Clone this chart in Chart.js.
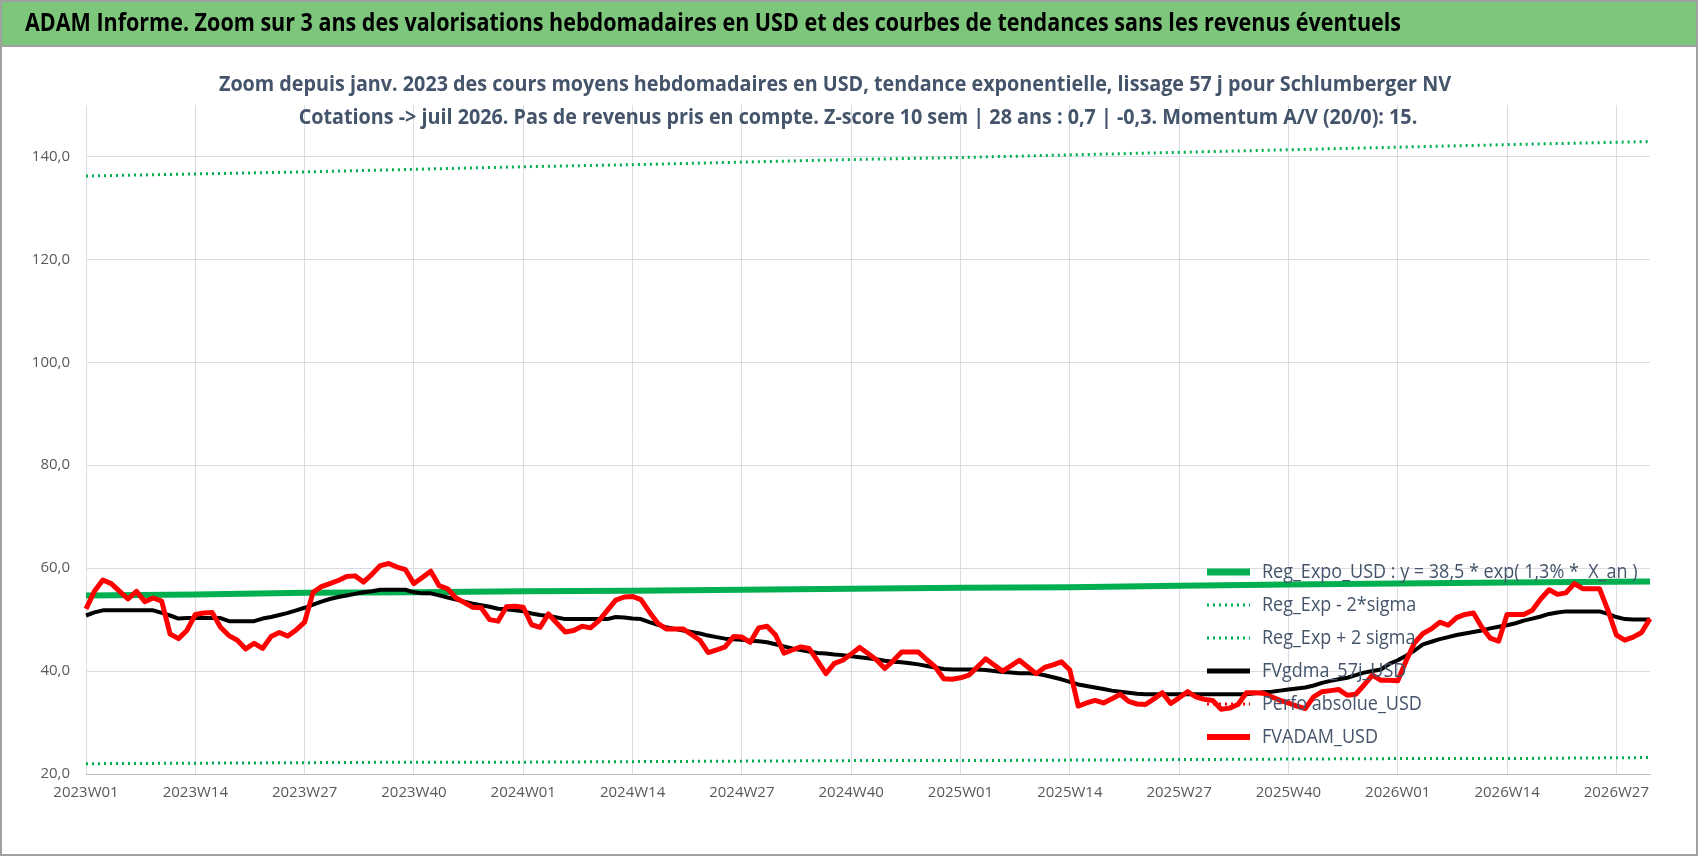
<!DOCTYPE html>
<html>
<head>
<meta charset="utf-8">
<script src="https://cdn.jsdelivr.net/npm/chart.js@4.4.7/dist/chart.umd.min.js"></script>
<style>
  html, body { margin: 0; padding: 0; background: #fff; }
  #wrap { position: relative; width: 1698px; height: 856px; }
</style>
</head>
<body>
<div id="wrap"><canvas id="chart" width="1698" height="856"></canvas></div>
<script>
const FONT = "'Open Sans', sans-serif"

const headerTitle = "ADAM Informe. Zoom sur 3 ans des valorisations hebdomadaires en USD et des courbes de tendances sans les revenus éventuels"
const subTitle = [
  "Zoom depuis janv. 2023 des cours moyens hebdomadaires en USD, tendance exponentielle, lissage 57 j pour Schlumberger NV",
  "Cotations -> juil 2026. Pas de revenus pris en compte. Z-score 10 sem | 28 ans : 0,7 | -0,3. Momentum A/V (20/0): 15."
]

// week labels 2023W01 .. 2026W31
const years = [2023, 2024, 2025, 2026]
const lastWeek = [52, 52, 52, 31]
const weeks = []
years.forEach((y, k) => {
  for (let w = 1; w <= lastWeek[k]; w++) weeks.push(y + "W" + String(w).padStart(2, "0"))
})

const fvadam = [
  52.1, 55.5, 57.7, 57.0, 55.5, 54.0, 55.5, 53.5, 54.2, 53.6,
  47.2, 46.3, 47.9, 51.0, 51.3, 51.4, 48.5, 46.9, 46.0, 44.3,
  45.4, 44.4, 46.7, 47.5, 46.8, 48.0, 49.5, 55.3, 56.4, 57.0,
  57.6, 58.4, 58.5, 57.3, 58.8, 60.5, 60.9, 60.2, 59.7, 57.0,
  58.2, 59.4, 56.6, 56.0, 54.2, 53.3, 52.4, 52.3, 50.0, 49.7,
  52.5, 52.6, 52.4, 49.0, 48.5, 51.1, 49.3, 47.6, 47.9, 48.7,
  48.4, 49.8, 51.8, 53.8, 54.4, 54.5, 53.9, 51.5, 49.3, 48.2,
  48.2, 48.2, 47.1, 46.0, 43.6, 44.1, 44.7, 46.7, 46.6, 45.6,
  48.4, 48.7, 47.0, 43.5, 44.1, 44.7, 44.4, 42.0, 39.5, 41.5,
  42.1, 43.3, 44.6, 43.4, 42.2, 40.5, 42.0, 43.7, 43.7, 43.7,
  42.2, 40.8, 38.5, 38.4, 38.7, 39.2, 40.8, 42.4, 41.2, 40.0,
  41.0, 42.1, 40.8, 39.5, 40.7, 41.2, 41.8, 40.2, 33.2, 33.8,
  34.3, 33.8, 34.6, 35.5, 34.1, 33.6, 33.5, 34.6, 35.8, 33.7,
  34.8, 36.0, 35.0, 34.5, 34.3, 32.6, 32.8, 33.5, 35.8, 35.8,
  35.7, 35.0, 34.3, 33.8, 33.2, 32.7, 35.0, 36.0, 36.2, 36.4,
  35.3, 35.5, 37.3, 39.2, 38.2, 38.2, 38.1, 42.0, 45.5, 47.3,
  48.2, 49.5, 48.9, 50.4, 51.0, 51.3, 48.5, 46.4, 45.8, 51.0,
  51.0, 51.0, 51.8, 54.0, 55.8, 54.9, 55.2, 57.0, 56.0, 56.0,
  56.0, 51.8, 47.0, 46.0, 46.6, 47.5, 50.2
]

const fvgdma = [
  50.8, 51.4, 51.8, 51.8, 51.8, 51.8, 51.8, 51.8, 51.8, 51.3,
  50.8, 50.2, 50.3, 50.3, 50.3, 50.3, 50.3, 49.7, 49.7, 49.7,
  49.7, 50.2, 50.5, 50.9, 51.3, 51.8, 52.3, 52.9, 53.5, 54.0,
  54.4, 54.7, 55.0, 55.3, 55.5, 55.8, 55.8, 55.8, 55.8, 55.3,
  55.1, 55.1, 54.7, 54.3, 53.9, 53.5, 53.1, 52.8, 52.5, 52.1,
  52.0, 51.8, 51.6, 51.2, 50.9, 50.7, 50.4, 50.1, 50.1, 50.1,
  50.1, 50.1, 50.1, 50.5, 50.4, 50.2, 50.1, 49.5, 49.0, 48.5,
  48.2, 47.9, 47.6, 47.3, 46.9, 46.6, 46.3, 46.2, 46.1, 45.9,
  45.8, 45.6, 45.2, 44.8, 44.4, 44.1, 43.8, 43.5, 43.4, 43.2,
  43.1, 42.9, 42.7, 42.5, 42.3, 42.0, 41.8, 41.7, 41.5, 41.3,
  41.0, 40.7, 40.4, 40.3, 40.3, 40.3, 40.3, 40.2, 40.0, 39.8,
  39.7, 39.6, 39.6, 39.5, 39.2, 38.8, 38.4, 37.9, 37.4, 37.1,
  36.8, 36.5, 36.2, 36.0, 35.8, 35.6, 35.5, 35.5, 35.5, 35.5,
  35.5, 35.5, 35.5, 35.5, 35.5, 35.5, 35.5, 35.5, 35.5, 35.7,
  35.9, 36.0, 36.2, 36.4, 36.6, 36.8, 37.2, 37.7, 38.1, 38.4,
  38.7, 39.2, 39.7, 40.0, 40.3, 41.4, 42.1, 43.0, 44.0, 45.2,
  45.7, 46.2, 46.6, 47.0, 47.3, 47.6, 47.9, 48.3, 48.6, 48.9,
  49.3, 49.8, 50.2, 50.6, 51.1, 51.4, 51.6, 51.6, 51.6, 51.6,
  51.6, 51.1, 50.5, 50.1, 50.0, 50.0, 50.0
]

// trend curves read every 13 weeks (index -> value)
const trendIdx = [0, 13, 26, 39, 52, 65, 78, 91, 104, 117, 130, 143, 156, 169, 186]
const regExpo = [54.7, 54.9, 55.2, 55.3, 55.5, 55.6, 55.8, 56.0, 56.2, 56.3, 56.6, 56.8, 57.0, 57.2, 57.4]
const regPlus = [136.2, 136.6, 137.0, 137.5, 138.0, 138.4, 138.9, 139.4, 139.8, 140.3, 140.8, 141.3, 141.8, 142.3, 142.9]
const regMinus = [22.0, 22.1, 22.2, 22.3, 22.3, 22.4, 22.5, 22.6, 22.6, 22.7, 22.8, 22.9, 23.0, 23.0, 23.2]

const sparse = vals => {
  const out = new Array(weeks.length).fill(null)
  trendIdx.forEach((i, k) => { out[i] = vals[k] })
  return out
}

const legendItems = [
  { label: "Reg_Expo_USD : y = 38,5 * exp( 1,3% *  X_an )", color: "#00b050", width: 7, dash: null },
  { label: "Reg_Exp - 2*sigma", color: "#00b050", width: 3, dash: [2, 4] },
  { label: "Reg_Exp + 2 sigma", color: "#00b050", width: 3, dash: [2, 4] },
  { label: "FVgdma_57j_USD", color: "#000000", width: 5, dash: null },
  { label: "Perfo absolue_USD", color: "#ff0000", width: 3, dash: [2, 4] },
  { label: "FVADAM_USD", color: "#ff0000", width: 6, dash: null }
]

// draw text squeezed horizontally (narrow-font look)
function narrowText(ctx, text, x, y, sx, align) {
  ctx.save()
  ctx.translate(x, y)
  ctx.scale(sx, 1)
  ctx.textAlign = align
  ctx.fillText(text, 0, 0)
  ctx.restore()
}

const decor = {
  id: "decor",
  beforeDraw(chart) {
    const ctx = chart.ctx
    ctx.save()
    ctx.fillStyle = "#fff"
    ctx.fillRect(0, 0, chart.width, chart.height)
    ctx.fillStyle = "#7dc67b"
    ctx.fillRect(0, 0, chart.width, 45)
    ctx.strokeStyle = "#a0a0a0"
    ctx.lineWidth = 2
    ctx.strokeRect(1, 1, chart.width - 2, chart.height - 2)
    ctx.beginPath(); ctx.moveTo(0, 46); ctx.lineTo(chart.width, 46); ctx.stroke()
    ctx.fillStyle = "#000"
    ctx.font = "bold 25px " + FONT
    ctx.textBaseline = "middle"
    narrowText(ctx, headerTitle, 25, 24, 0.86, "left")
    ctx.restore()
  },
  afterDraw(chart) {
    const ctx = chart.ctx
    ctx.save()
    ctx.fillStyle = "#44546a"
    ctx.font = "bold 21px " + FONT
    ctx.textBaseline = "middle"
    narrowText(ctx, subTitle[0], 835, 85, 0.94, "center")
    narrowText(ctx, subTitle[1], 858, 118, 0.94, "center")
    ctx.font = "20px " + FONT
    legendItems.forEach((it, k) => {
      const y = 572 + k * 33
      ctx.strokeStyle = it.color
      ctx.lineWidth = it.width
      ctx.setLineDash(it.dash || [])
      ctx.beginPath(); ctx.moveTo(1207, y); ctx.lineTo(1250, y); ctx.stroke()
      ctx.fillStyle = "#44546a"
      narrowText(ctx, it.label, 1262, y, 0.9, "left")
    })
    ctx.restore()
  }
}

new Chart(document.getElementById("chart"), {
  type: "line",
  data: {
    labels: weeks,
    datasets: [
      { label: "Reg_Expo_USD", data: sparse(regExpo), borderColor: "#00b050", borderWidth: 6, spanGaps: true, order: 4 },
      { label: "Reg_Exp - 2*sigma", data: sparse(regMinus), borderColor: "#00b050", borderWidth: 3, borderDash: [2, 4], spanGaps: true, order: 5 },
      { label: "Reg_Exp + 2 sigma", data: sparse(regPlus), borderColor: "#00b050", borderWidth: 3, borderDash: [2, 4], spanGaps: true, order: 6 },
      { label: "FVgdma_57j_USD", data: fvgdma, borderColor: "#000000", borderWidth: 4, order: 2 },
      { label: "FVADAM_USD", data: fvadam, borderColor: "#ff0000", borderWidth: 5, order: 1 }
    ]
  },
  options: {
    responsive: false,
    animation: false,
    elements: { point: { radius: 0 }, line: { tension: 0, borderJoinStyle: "round" } },
    layout: { padding: { top: 105, right: 48, bottom: 40, left: 0 } },
    plugins: { legend: { display: false }, tooltip: { enabled: false } },
    scales: {
      x: {
        grid: { color: "#d9dde3", drawTicks: false, lineWidth: (c) => (c.index % 13 === 0 ? 1 : 0) },
        border: { color: "#bfbfbf" },
        afterFit: (s) => { s.height = 42 },
        ticks: {
          autoSkip: false, maxRotation: 0, padding: 10,
          color: "#595959", font: { family: FONT, size: 15 },
          callback: function (v, i) { return i % 13 === 0 ? this.getLabelForValue(v) : "" }
        }
      },
      y: {
        min: 20, max: 150,
        afterFit: (s) => { s.width = 86 },
        grid: { color: (c) => (c.tick.value === 150 ? "rgba(0,0,0,0)" : "#d9dde3"), drawTicks: false },
        border: { display: false },
        ticks: {
          stepSize: 20, padding: 16, color: "#595959", font: { family: FONT, size: 15 },
          callback: (v) => (v === 150 ? "" : v.toFixed(1).replace(".", ","))
        }
      }
    }
  },
  plugins: [decor]
})
</script>
</body>
</html>
